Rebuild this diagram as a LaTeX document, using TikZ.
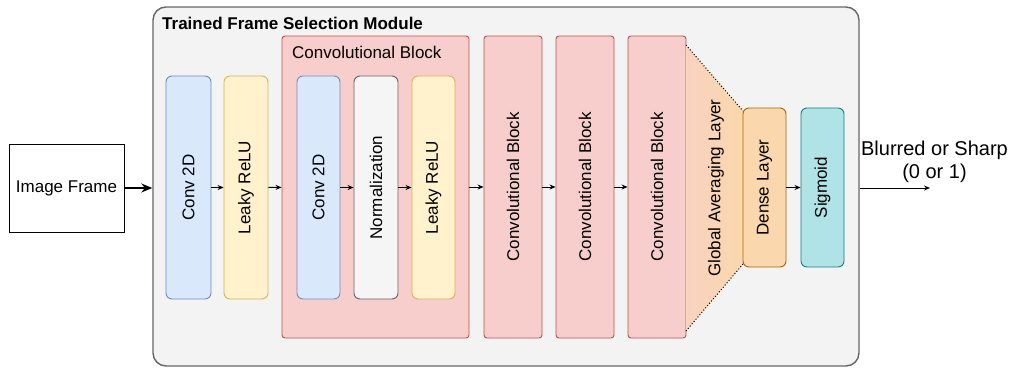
\documentclass[tikz,border=0pt]{standalone}
\usepackage{fontspec}
\setmainfont{Liberation Sans}
\usetikzlibrary{arrows.meta}

\definecolor{bluefill}{HTML}{DAE8FC}
\definecolor{bluedraw}{HTML}{6C8EBF}
\definecolor{yelfill}{HTML}{FFF2CC}
\definecolor{yeldraw}{HTML}{D6B656}
\definecolor{redfill}{HTML}{F8CECC}
\definecolor{reddraw}{HTML}{B85450}
\definecolor{grayfill}{HTML}{F5F5F5}
\definecolor{graydraw}{HTML}{666666}
\definecolor{orfill}{HTML}{FAD7AC}
\definecolor{ordraw}{HTML}{B46504}
\definecolor{cyfill}{HTML}{B0E3E6}
\definecolor{cydraw}{HTML}{0E8088}
\definecolor{modfill}{HTML}{F3F3F3}
\definecolor{gapfill}{HTML}{F9D2C0}

\tikzset{
  layer/.style={draw, rounded corners=6pt, line width=0.9pt, inner sep=0pt,
    minimum width=44pt, minimum height=223pt},
  conv/.style={layer, fill=bluefill, draw=bluedraw},
  relu/.style={layer, fill=yelfill, draw=yeldraw},
  norm/.style={layer, fill=grayfill, draw=graydraw},
  cblock/.style={draw=reddraw, fill=redfill, rounded corners=3pt, line width=0.9pt,
    inner sep=0pt, minimum width=58pt, minimum height=302pt},
  flow/.style={-{Stealth[length=6pt,width=5pt]}, line width=0.9pt},
}

\begin{document}
\begin{tikzpicture}[x=1pt, y=-1pt, font=\fontsize{17}{20}\selectfont,
  every label/.append style={font=\fontsize{17}{20}\selectfont}]

  \useasboundingbox (0,0) rectangle (1012,367);

  % --- modulo esterno ---
  \node[draw=graydraw, fill=modfill, line width=1.4pt, rounded corners=13pt,
    minimum width=706pt, minimum height=359pt, inner sep=0pt] (mod) at (506,186.5) {};
  \node[anchor=base west, inner sep=0pt, font=\fontsize{17}{20}\selectfont\bfseries]
    (titolo) at (162,29.5) {Trained Frame Selection Module};

  % --- ingresso ---
  \node[draw, line width=1pt, minimum width=115pt, minimum height=88pt, inner sep=0pt]
    (img) at (66.5,188) {Image Frame};

  % --- primi strati ---
  \node[conv, minimum width=45pt, label={[rotate=90]center:Conv 2D}] (cv1) at (188.5,187.5) {};
  \node[relu, label={[rotate=90]center:Leaky ReLU}] (lr1) at (246,187.5) {};

  % --- blocco convoluzionale (dettaglio) ---
  \node[cblock, minimum width=187pt] (blk) at (375.5,187) {};
  \node[anchor=base west, inner sep=0pt] (blktit) at (292,58) {Convolutional Block};
  \node[conv, minimum width=43pt, label={[rotate=90]center:Conv 2D}] (cv2) at (318.5,187.5) {};
  \node[norm, label={[rotate=90]center:Normalization}] (nrm) at (376,187.5) {};
  \node[relu, minimum width=43pt, label={[rotate=90]center:Leaky ReLU}] (lr2) at (433.5,187.5) {};

  % --- blocchi successivi ---
  \node[cblock, label={[rotate=90]center:Convolutional Block}] (cb1) at (513,187) {};
  \node[cblock, label={[rotate=90]center:Convolutional Block}] (cb2) at (585,187) {};
  \node[cblock, label={[rotate=90]center:Convolutional Block}] (cb3) at (657,187) {};

  % --- global averaging (trapezio) ---
  \shade[left color=gapfill, right color=orfill] (686,45) -- (743,111) -- (743,264) -- (686,331) -- cycle;
  \draw[dotted, line width=1pt] (686,45) -- (743,111);
  \draw[dotted, line width=1pt] (743,264) -- (686,331);
  \node[rotate=90] (gap) at (716,188) {Global Averaging Layer};

  % --- testa finale ---
  \node[layer, fill=orfill, draw=ordraw, minimum width=43pt, minimum height=159pt,
    label={[rotate=90]center:Dense Layer}] (dns) at (764.5,187.5) {};
  \node[layer, fill=cyfill, draw=cydraw, minimum width=43pt, minimum height=159pt,
    label={[rotate=90]center:Sigmoid}] (sig) at (822.5,187.5) {};

  % --- uscita ---
  \coordinate (out) at (930,188);
  \node[align=center, anchor=south, inner sep=0pt, font=\fontsize{20}{23}\selectfont]
    (res) at (934.5,183) {Blurred or Sharp\\(0 or 1)};

  % --- frecce ---
  \draw[-{Stealth[length=11pt,width=9pt]}, line width=1.4pt] (img.east) -- (img.east -| mod.west);
  \draw[flow] (cv1) -- (lr1);
  \draw[flow] (lr1) -- (blk);
  \draw[flow] (cv2) -- (nrm);
  \draw[flow] (nrm) -- (lr2);
  \draw[flow] (blk.east |- cb1) -- (cb1);
  \draw[flow] (cb1) -- (cb2);
  \draw[flow] (cb2) -- (cb3);
  \draw[flow] (dns) -- (sig);
  \draw[flow] (out -| mod.east) -- (out);

\end{tikzpicture}
\end{document}
